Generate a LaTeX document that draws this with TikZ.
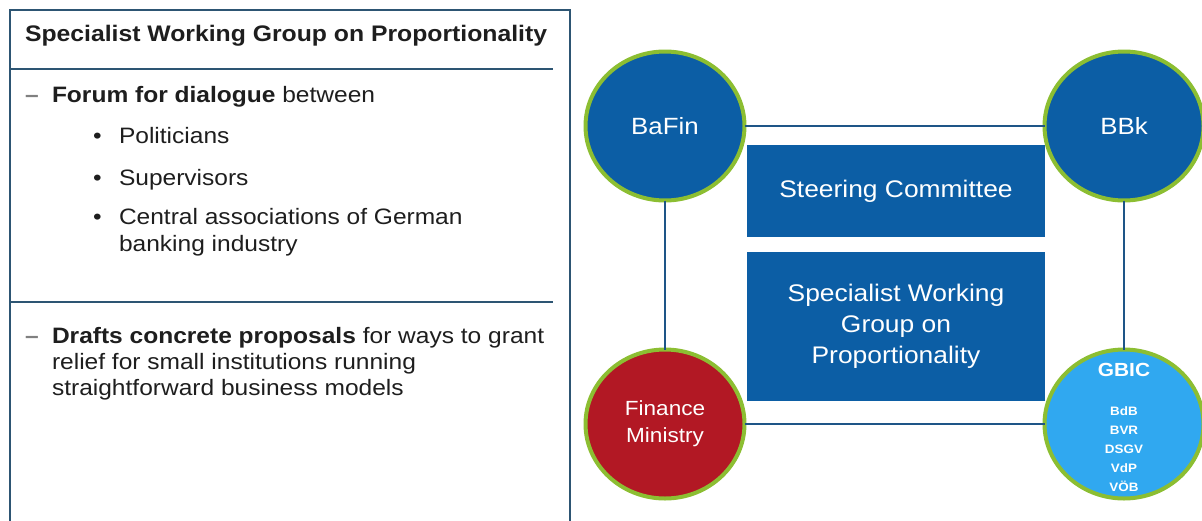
\documentclass[tikz,border=0pt]{standalone}
\usepackage{fontspec}
\setmainfont{Liberation Sans}[FakeStretch=1.1]
\usepackage{xcolor}
\usetikzlibrary{positioning, shapes.geometric}

\definecolor{boxblue}{RGB}{12,94,165}
\definecolor{ringgreen}{RGB}{140,190,50}
\definecolor{minred}{RGB}{178,24,36}
\definecolor{gbicblue}{RGB}{48,168,240}
\definecolor{linkblue}{RGB}{30,85,135}
\definecolor{framecol}{RGB}{45,85,115}
\definecolor{bodytext}{RGB}{30,30,30}

\begin{document}
\begin{tikzpicture}[
    x=1pt, y=-1pt,
    every node/.style={inner sep=0pt, outer sep=0pt},
    frameline/.style={draw=framecol, line width=2.5pt},
    txt/.style={anchor=base west, text=bodytext, font=\fontsize{22.3}{27}\selectfont},
    marker/.style={anchor=base west, text=#1, font=\fontsize{22.3}{27}\selectfont},
    org/.style={ellipse, draw=ringgreen, line width=4pt, fill=#1, minimum width=159pt, minimum height=149pt, text=white, align=center},
    body/.style={rectangle, fill=boxblue, minimum width=298pt, text=white, align=center, font=\fontsize{24}{31}\selectfont},
    link/.style={draw=linkblue, line width=2.5pt},
  ]

  \useasboundingbox (0,0) rectangle (1202,520);

  % ---- Left panel ----
  \draw[frameline] (10,535) -- (10,10) -- (570,10) -- (570,535);
  \draw[frameline] (10,69) -- (553,69);
  \draw[frameline] (10,302) -- (553,302);

  \node[txt, font=\fontsize{22.5}{27}\selectfont\bfseries] (title) at (25,41) {Specialist Working Group on Proportionality};

  \node[marker=gray, font=\fontsize{22.3}{27}\selectfont\bfseries] (dashA) at (25,102) {--};
  \node[txt] (forum) at (52,102) {\textbf{Forum for dialogue} between};
  \foreach \y/\t in {143/Politicians, 185/Supervisors, 224/Central associations of German} {
    \node[marker=bodytext] (bul\y) at (93,\y) {\textbullet};
    \node[txt] (item\y) at (119,\y) {\t};
  }
  \node[txt] (banking) at (119,251) {banking industry};

  \node[marker=gray, font=\fontsize{22.3}{27}\selectfont\bfseries] (dashB) at (25,343) {--};
  \node[txt] (drafts) at (52,343) {\textbf{Drafts concrete proposals} for ways to grant};
  \node[txt] (relief) at (52,369) {relief for small institutions running};
  \node[txt] (straight) at (52,395) {straightforward business models};

  % ---- Committee and working group ----
  \node[body, minimum height=92pt] (steer) at (896,191) {Steering Committee};
  \node[body, minimum height=149pt, below=15pt of steer] (swg) {Specialist Working\\Group on\\Proportionality};

  % ---- Members ----
  \node[org=boxblue, font=\fontsize{23.5}{28}\selectfont] (bafin) at (665,126) {BaFin};
  \node[org=boxblue, font=\fontsize{23.5}{28}\selectfont, right=300pt of bafin] (bbk) {BBk};
  \node[org=minred, font=\fontsize{20.5}{27}\selectfont, below=149pt of bafin] (fin) {Finance\\Ministry};
  \node[org=gbicblue, below=149pt of bbk] (gbic) {};
  \node[text=white, font=\fontsize{19}{22}\selectfont\bfseries] (gbiclabel) at ([yshift=54pt]gbic.center) {GBIC};
  \node[text=white, align=center, font=\fontsize{12.2}{19}\selectfont\bfseries] (members) at ([yshift=-25pt]gbic.center)
    {BdB\\BVR\\DSGV\\VdP\\VÖB};

  % ---- Links between members ----
  \draw[link] (bafin) -- (bbk);
  \draw[link] (fin) -- (gbic);
  \draw[link] (bafin) -- (fin);
  \draw[link] (bbk) -- (gbic);

\end{tikzpicture}
\end{document}
